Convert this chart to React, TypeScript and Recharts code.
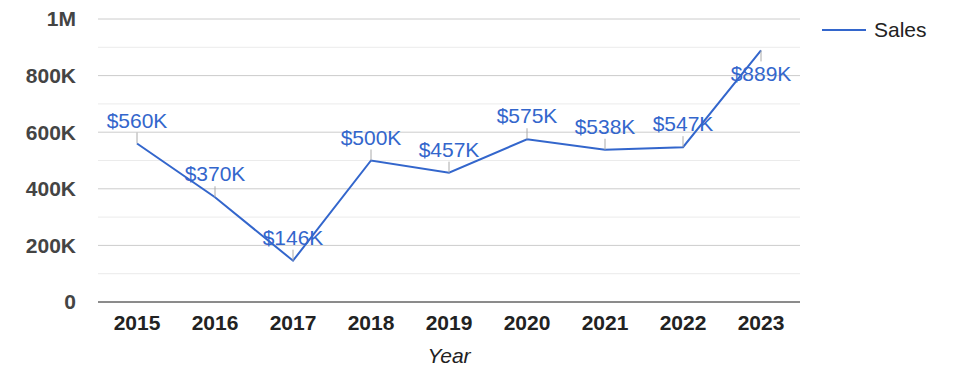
import React from 'react';
import { LineChart, Line, XAxis, YAxis, CartesianGrid, Legend, LabelList } from 'recharts';

const years = ['2015', '2016', '2017', '2018', '2019', '2020', '2021', '2022', '2023'];
const sales = [560000, 370000, 146000, 500000, 457000, 575000, 538000, 547000, 889000];
const majorTicks = [0, 200000, 400000, 600000, 800000, 1000000];
const minorTicks = [100000, 300000, 500000, 700000, 900000];

const data = years.map((year, i) => ({ year, sales: sales[i] }));

const FONT = 'Arial, "Liberation Sans", sans-serif';
const BLUE = '#3366cc';

const fmtAxis = (v: number) => (v === 0 ? '0' : v >= 1000000 ? `${v / 1000000}M` : `${v / 1000}K`);

// annotation with a short leader line; flips below the point when it would run off the top
function SalesLabel(props: any) {
  const { x, y, value } = props;
  const below = y < 60;
  const dir = below ? 1 : -1;
  return (
    <g>
      <line x1={x} y1={y} x2={x} y2={y + dir * 11} stroke="#aaa" strokeWidth={1} />
      <text
        x={x}
        y={below ? y + 31 : y - 16}
        textAnchor="middle"
        fill={BLUE}
        fontSize={21}
        fontFamily={FONT}
      >
        {`$${Math.round(value / 1000)}K`}
      </text>
    </g>
  );
}

const renderLegend = () => (
  <svg width={130} height={24}>
    <line x1={0} y1={12} x2={44} y2={12} stroke={BLUE} strokeWidth={2} />
    <text x={52} y={12} dy="0.355em" fontSize={21} fontFamily={FONT} fill="#222">
      Sales
    </text>
  </svg>
);

export default function App() {
  return (
    <div style={{ position: 'absolute', left: 0, top: 0, background: '#fff' }}>
      <LineChart width={975} height={378} data={data} margin={{ top: 19, right: 175, bottom: 0, left: 0 }}>
        <CartesianGrid horizontalValues={minorTicks} vertical={false} stroke="#ebebeb" />
        <CartesianGrid horizontalValues={majorTicks} vertical={false} stroke="#cccccc" />
        <XAxis
          dataKey="year"
          height={76}
          padding={{ left: 39, right: 39 }}
          tickLine={false}
          tickSize={0}
          tickMargin={13}
          axisLine={{ stroke: '#333', strokeWidth: 1 }}
          tick={{ fill: '#222', fontSize: 21, fontWeight: 'bold', fontFamily: FONT }}
          label={{
            value: 'Year',
            position: 'insideBottom',
            offset: 15,
            fill: '#222',
            fontSize: 21,
            fontStyle: 'italic',
            fontFamily: FONT,
          }}
        />
        <YAxis
          width={98}
          domain={[0, 1000000]}
          ticks={majorTicks}
          tickFormatter={fmtAxis}
          axisLine={false}
          tickLine={false}
          tickSize={0}
          tickMargin={22}
          tick={{ fill: '#444', fontSize: 21, fontWeight: 'bold', fontFamily: FONT }}
        />
        <Legend
          layout="horizontal"
          verticalAlign="middle"
          align="center"
          content={renderLegend}
          wrapperStyle={{ left: 822, top: 18, width: 130 }}
        />
        <Line
          type="linear"
          dataKey="sales"
          name="Sales"
          stroke={BLUE}
          strokeWidth={2}
          dot={false}
          activeDot={false}
          isAnimationActive={false}
        >
          <LabelList dataKey="sales" content={SalesLabel} />
        </Line>
      </LineChart>
    </div>
  );
}
